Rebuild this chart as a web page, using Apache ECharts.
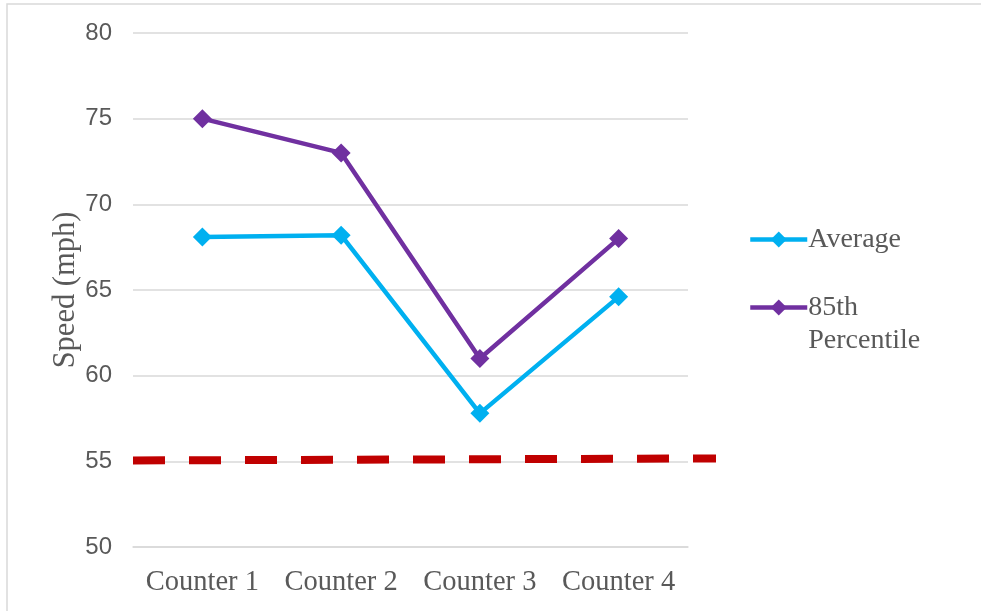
<!DOCTYPE html>
<html>
<head>
<meta charset="utf-8">
<script src="https://cdn.jsdelivr.net/npm/echarts@6/dist/echarts.min.js"></script>
<style>
  html, body { margin: 0; padding: 0; background: #fff; }
  #chart { width: 981px; height: 611px; }
</style>
</head>
<body>
<div id="chart"></div>
<script>
// Counter locations along the corridor
const categories = ['Counter 1', 'Counter 2', 'Counter 3', 'Counter 4'];
// Average speed at each counter (mph)
const averageSpeed = [68.1, 68.2, 57.8, 64.6];
// 85th percentile speed at each counter (mph)
const percentile85 = [75, 73, 61, 68];
// Posted speed limit reference line: start/end along the counters, and speed (mph)
const limitX = [0, 4.2];
const limitSpeed = [55.05, 55.17];
// Speed axis ticks
const yMin = 50, yMax = 80, yStep = 5;

const serif = '"Liberation Serif", "Times New Roman", serif';
const sans = '"Liberation Sans", Arial, sans-serif';
const textGrey = '#595959';
const gridGrey = '#d9d9d9';

const chart = echarts.init(document.getElementById('chart'), null, { renderer: 'canvas' });

chart.setOption({
  backgroundColor: '#ffffff',
  animation: false,
  graphic: [{
    type: 'rect',
    silent: true,
    z: -10,
    shape: { x: 7, y: 4, width: 1200, height: 800 },
    style: { fill: 'none', stroke: gridGrey, lineWidth: 1.5 }
  }],
  grid: [
    // main plot area
    { left: 133, right: 293, top: 33, bottom: 64, containLabel: false },
    // speed-limit line runs a little past the plot on the right
    { left: 133, right: 265, top: 33, bottom: 64, containLabel: false }
  ],
  legend: {
    orient: 'vertical',
    left: 748,
    top: 223,
    padding: 0,
    itemGap: 2,
    itemWidth: 57,
    itemHeight: 20,
    data: ['Average', '85th Percentile'],
    formatter: function (name) {
      return name === '85th Percentile' ? '\n85th\nPercentile' : name;
    },
    lineStyle: { width: 4.5 },
    textStyle: {
      fontFamily: serif,
      fontSize: 28,
      lineHeight: 33,
      color: textGrey,
      padding: [0, 0, 0, -4]
    }
  },
  xAxis: [{
    type: 'category',
    gridIndex: 0,
    data: categories,
    boundaryGap: true,
    axisLine: { show: true, lineStyle: { color: gridGrey, width: 1.5 } },
    axisTick: { show: false },
    axisLabel: {
      interval: 0,
      hideOverlap: false,
      fontFamily: serif,
      fontSize: 28.5,
      color: textGrey,
      margin: 21
    }
  }, {
    type: 'value',
    gridIndex: 1,
    min: limitX[0],
    max: limitX[1],
    show: false
  }],
  yAxis: [{
    type: 'value',
    gridIndex: 0,
    min: yMin,
    max: yMax,
    interval: yStep,
    name: 'Speed (mph)',
    nameLocation: 'middle',
    nameMoveOverlap: false,
    nameGap: 52,
    nameTextStyle: { fontFamily: serif, fontSize: 30.5, color: textGrey },
    axisLine: { show: false },
    axisTick: { show: false },
    splitLine: { lineStyle: { color: gridGrey, width: 1.5 } },
    axisLabel: {
      fontFamily: sans,
      fontSize: 24,
      color: textGrey,
      margin: 21
    }
  }, {
    type: 'value',
    gridIndex: 1,
    min: yMin,
    max: yMax,
    interval: yStep,
    show: false,
    splitLine: { show: false }
  }],
  series: [
    {
      name: 'Speed limit',
      type: 'line',
      xAxisIndex: 1,
      yAxisIndex: 1,
      data: limitX.map((x, i) => [x, limitSpeed[i]]),
      symbol: 'none',
      silent: true,
      z: 1,
      lineStyle: { color: '#C00000', width: 8, type: [32, 24], cap: 'butt' }
    },
    {
      name: 'Average',
      type: 'line',
      data: averageSpeed,
      symbol: 'diamond',
      symbolSize: 19,
      z: 3,
      itemStyle: { color: '#00B0F0' },
      lineStyle: { color: '#00B0F0', width: 4.5 }
    },
    {
      name: '85th Percentile',
      type: 'line',
      data: percentile85,
      symbol: 'diamond',
      symbolSize: 19,
      z: 3,
      itemStyle: { color: '#7030A0' },
      lineStyle: { color: '#7030A0', width: 4.5 }
    }
  ]
});
</script>
</body>
</html>
